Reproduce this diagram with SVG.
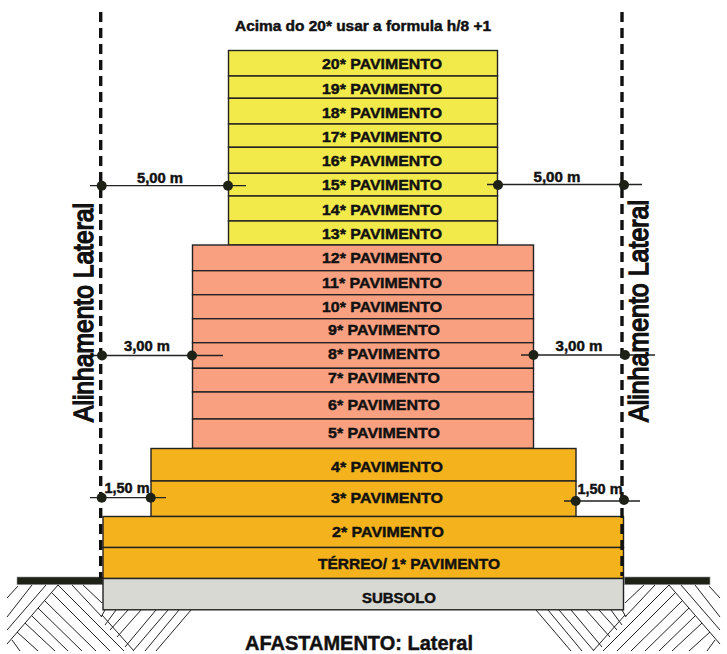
<svg xmlns="http://www.w3.org/2000/svg" xmlns:xlink="http://www.w3.org/1999/xlink" width="727" height="654" viewBox="0 0 727 654">
<style>
text{font-family:"Liberation Sans",Arial,sans-serif;font-weight:700;fill:#111;stroke:#111;stroke-width:.45}
.f{font-size:15.5px;text-anchor:middle}
.d{font-size:14px;text-anchor:middle}
.v{font-weight:400;font-size:28.5px;stroke-width:1.5}
.fl{stroke:#222;stroke-width:1.4}
.y{fill:#F2E94A}.s{fill:#F9A081}.a{fill:#F4B31C}.g{fill:#D8D9D3}
.h{stroke:#222;stroke-width:1;fill:none}
.dim{stroke:#222;stroke-width:1.3;fill:none}
.dash{stroke:#111;stroke-width:3.4;stroke-dasharray:10 6;fill:none}
.dot{fill:#1d2116}
.gr{fill:#1d2116;stroke:#999;stroke-width:.6}
</style>
<defs>
<path id="hatch" class="h" d="M18 586L7 598M32 585L7 617M46 585L7 630M58 585L7 644M83 585L102 603M72 585L102 617M102 615L134 651M58 585L124 651M52 593L110 651M45 601L96 651M38 608L82 651M32 616L68 651M25 623L55 651M17 632L38 651M12 640L20 651M105 610L101 617M116 610L105 625M128 610L110 630M141 610L117 637M156 610L125 647M168 610L133 651M179 610L145 651M191 610L156 651"/>
</defs>
<g id="ground">
<use xlink:href="#hatch" href="#hatch"/>
<use xlink:href="#hatch" href="#hatch" transform="translate(727 0) scale(-1 1)"/>
<rect class="gr" x="17" y="577" width="86" height="7.7"/>
<rect class="gr" x="624.5" y="577" width="85.5" height="7.7"/>
</g>
<g id="title"><text x="363" y="31" font-size="14" text-anchor="middle" textLength="256" lengthAdjust="spacingAndGlyphs">Acima do 20* usar a formula h/8 +1</text></g>
<g id="p20"><rect class="fl y" x="228.5" y="50.5" width="269" height="25.5"/><text class="f" x="382" y="69" textLength="120" lengthAdjust="spacingAndGlyphs">20* PAVIMENTO</text></g>
<g id="p19"><rect class="fl y" x="228.5" y="76" width="269" height="22.3"/><text class="f" x="382" y="94" textLength="120" lengthAdjust="spacingAndGlyphs">19* PAVIMENTO</text></g>
<g id="p18"><rect class="fl y" x="228.5" y="98.3" width="269" height="25.7"/><text class="f" x="382" y="118" textLength="120" lengthAdjust="spacingAndGlyphs">18* PAVIMENTO</text></g>
<g id="p17"><rect class="fl y" x="228.5" y="124" width="269" height="23.3"/><text class="f" x="382" y="142" textLength="120" lengthAdjust="spacingAndGlyphs">17* PAVIMENTO</text></g>
<g id="p16"><rect class="fl y" x="228.5" y="147.3" width="269" height="26"/><text class="f" x="382" y="166" textLength="120" lengthAdjust="spacingAndGlyphs">16* PAVIMENTO</text></g>
<g id="p15"><rect class="fl y" x="228.5" y="173.3" width="269" height="22.7"/><text class="f" x="382" y="190" textLength="120" lengthAdjust="spacingAndGlyphs">15* PAVIMENTO</text></g>
<g id="p14"><rect class="fl y" x="228.5" y="196" width="269" height="25"/><text class="f" x="382" y="215" textLength="120" lengthAdjust="spacingAndGlyphs">14* PAVIMENTO</text></g>
<g id="p13"><rect class="fl y" x="228.5" y="221" width="269" height="24"/><text class="f" x="382" y="239" textLength="120" lengthAdjust="spacingAndGlyphs">13* PAVIMENTO</text></g>
<g id="p12"><rect class="fl s" x="192.5" y="245" width="341" height="25.7"/><text class="f" x="382" y="263" textLength="120" lengthAdjust="spacingAndGlyphs">12* PAVIMENTO</text></g>
<g id="p11"><rect class="fl s" x="192.5" y="270.7" width="341" height="24"/><text class="f" x="382" y="288" textLength="120" lengthAdjust="spacingAndGlyphs">11* PAVIMENTO</text></g>
<g id="p10"><rect class="fl s" x="192.5" y="294.7" width="341" height="24"/><text class="f" x="382" y="312" textLength="120" lengthAdjust="spacingAndGlyphs">10* PAVIMENTO</text></g>
<g id="p9"><rect class="fl s" x="192.5" y="318.7" width="341" height="24"/><text class="f" x="384" y="335" textLength="112" lengthAdjust="spacingAndGlyphs">9* PAVIMENTO</text></g>
<g id="p8"><rect class="fl s" x="192.5" y="342.7" width="341" height="25.6"/><text class="f" x="384" y="359" textLength="112" lengthAdjust="spacingAndGlyphs">8* PAVIMENTO</text></g>
<g id="p7"><rect class="fl s" x="192.5" y="368.3" width="341" height="23.7"/><text class="f" x="384" y="383" textLength="112" lengthAdjust="spacingAndGlyphs">7* PAVIMENTO</text></g>
<g id="p6"><rect class="fl s" x="192.5" y="392" width="341" height="27"/><text class="f" x="384" y="410" textLength="112" lengthAdjust="spacingAndGlyphs">6* PAVIMENTO</text></g>
<g id="p5"><rect class="fl s" x="192.5" y="419" width="341" height="29.3"/><text class="f" x="384" y="438" textLength="112" lengthAdjust="spacingAndGlyphs">5* PAVIMENTO</text></g>
<g id="p4"><rect class="fl a" x="151" y="448.5" width="425" height="32.5"/><text class="f" x="387" y="472" textLength="112" lengthAdjust="spacingAndGlyphs">4* PAVIMENTO</text></g>
<g id="p3"><rect class="fl a" x="151" y="481" width="425" height="35.5"/><text class="f" x="387" y="503" textLength="112" lengthAdjust="spacingAndGlyphs">3* PAVIMENTO</text></g>
<g id="p2"><rect class="fl a" x="103" y="516.5" width="520.5" height="31"/><text class="f" x="388" y="537" textLength="112" lengthAdjust="spacingAndGlyphs">2* PAVIMENTO</text></g>
<g id="p1"><rect class="fl a" x="103" y="547.5" width="520.5" height="31"/><text class="f" x="409" y="569" textLength="182" lengthAdjust="spacingAndGlyphs">TÉRREO/ 1* PAVIMENTO</text></g>
<g id="subsolo"><rect class="fl g" x="103" y="578.5" width="520.5" height="31.3"/><text x="399" y="603" font-size="14.5" text-anchor="middle" textLength="74" lengthAdjust="spacingAndGlyphs">SUBSOLO</text></g>
<g id="connectors">
<path class="dash" d="M100.7 12V578"/>
<path class="dash" d="M622 12V576"/>
<path class="dim" d="M90 185.7H246M487 184.5H642M90 355.5H223M521 355H655M90 497.7H166M564 501H640"/>
<circle class="dot" cx="101.7" cy="185.7" r="5"/><circle class="dot" cx="228" cy="185.7" r="5"/>
<circle class="dot" cx="498" cy="185" r="5"/><circle class="dot" cx="624" cy="185" r="5"/>
<circle class="dot" cx="102" cy="355.5" r="5"/><circle class="dot" cx="192" cy="355.5" r="5"/>
<circle class="dot" cx="533.5" cy="355" r="5"/><circle class="dot" cx="625" cy="355" r="5"/>
<circle class="dot" cx="101.7" cy="497.7" r="5"/><circle class="dot" cx="150.7" cy="497.7" r="5"/>
<circle class="dot" cx="575.7" cy="501" r="5"/><circle class="dot" cx="624" cy="500" r="5"/>
</g>
<g id="labels">
<text class="d" x="160" y="183" textLength="46" lengthAdjust="spacingAndGlyphs">5,00 m</text>
<text class="d" x="557" y="182" textLength="47" lengthAdjust="spacingAndGlyphs">5,00 m</text>
<text class="d" x="147" y="351" textLength="46" lengthAdjust="spacingAndGlyphs">3,00 m</text>
<text class="d" x="579" y="351" textLength="47" lengthAdjust="spacingAndGlyphs">3,00 m</text>
<text class="d" x="127" y="493" textLength="45" lengthAdjust="spacingAndGlyphs">1,50 m</text>
<text class="d" x="600" y="494" textLength="45" lengthAdjust="spacingAndGlyphs">1,50 m</text>
<text class="v" transform="translate(93 422) rotate(-90)" textLength="219" lengthAdjust="spacingAndGlyphs">Alinhamento Lateral</text>
<text class="v" transform="translate(648 422) rotate(-90)" textLength="222" lengthAdjust="spacingAndGlyphs">Alinhamento Lateral</text>
<text x="359" y="649.5" font-size="21" text-anchor="middle" textLength="228" lengthAdjust="spacingAndGlyphs">AFASTAMENTO: Lateral</text>
</g>
</svg>
